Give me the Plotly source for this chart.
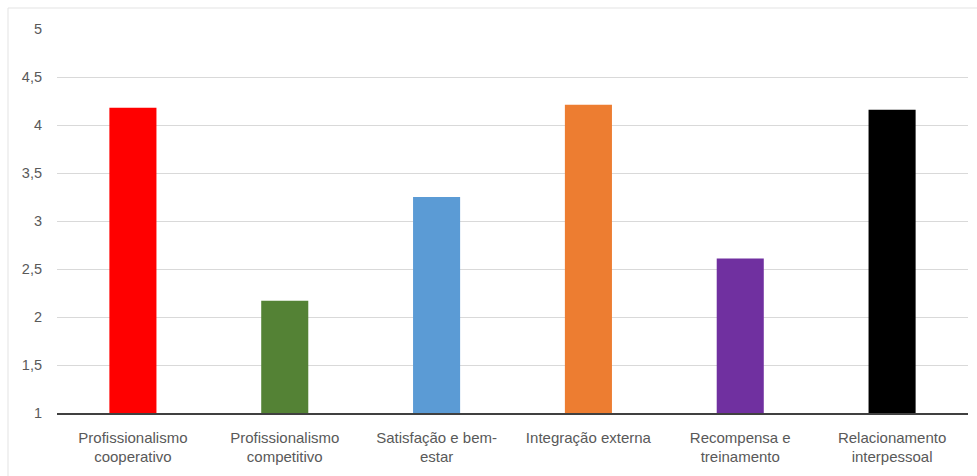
import plotly.graph_objects as go

categories = ["Profissionalismo<br>cooperativo", "Profissionalismo<br>competitivo",
              "Satisfação e bem-<br>estar", "Integração externa",
              "Recompensa e<br>treinamento", "Relacionamento<br>interpessoal"]
values = [4.18, 2.17, 3.25, 4.21, 2.61, 4.16]
colors = ["#ff0000", "#548235", "#5b9bd5", "#ed7d31", "#7030a0", "#000000"]
tick_vals = [1, 1.5, 2, 2.5, 3, 3.5, 4, 4.5, 5]
tick_text = ["1", "1,5", "2", "2,5", "3", "3,5", "4", "4,5", "5"]

FONT = "Liberation Sans, Arial, sans-serif"

fig = go.Figure(go.Bar(x=categories, y=values, marker=dict(color=colors, line=dict(width=0)),
                       width=0.31))
fig.update_layout(
    width=977, height=476,
    margin=dict(l=57, r=9, t=29, b=63),
    paper_bgcolor="white", plot_bgcolor="white",
    font=dict(family=FONT, size=14, color="#595959"),
    showlegend=False,
)
fig.update_yaxes(range=[1, 5], tickvals=tick_vals, ticktext=tick_text,
                 showgrid=True, gridcolor="#d9d9d9", gridwidth=1, zeroline=False,
                 showline=False, ticks="", ticklabelstandoff=14,
                 tickfont=dict(family=FONT, size=14.5))
fig.update_xaxes(showline=True, linecolor="#404040", linewidth=1.5, ticks="",
                 showgrid=False, tickangle=0, ticklabelstandoff=10,
                 tickfont=dict(family=FONT, size=15))
fig.add_shape(type="rect", xref="paper", yref="paper",
              x0=-49/911, x1=1.05, y0=-0.3, y1=1 + 21/384,
              line=dict(color="#e3e3e3", width=1), layer="below")
fig.write_html("out.html")
